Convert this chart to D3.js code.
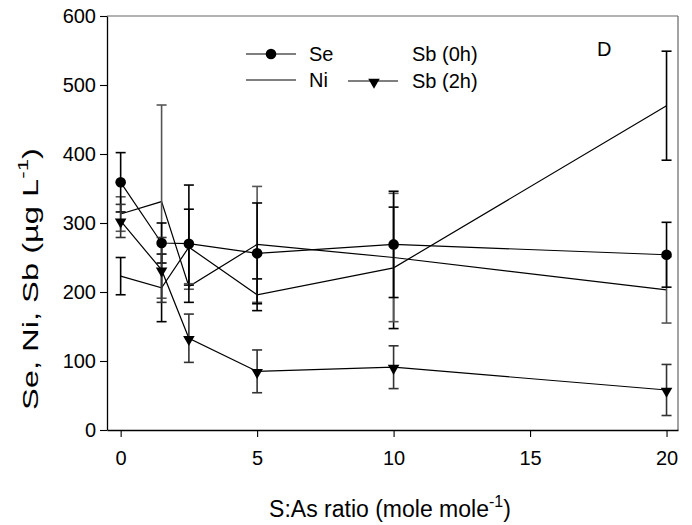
<!DOCTYPE html>
<html>
<head>
<meta charset="utf-8">
<script src="https://cdn.jsdelivr.net/npm/d3@7"></script>
<style>
  body { margin: 0; background: #fff; }
  text { font-family: "Liberation Sans", Arial, sans-serif; fill: #000; }
</style>
</head>
<body>
<svg class="chart"></svg>
<script>
// data
var ratio = [0, 1.5, 2.5, 5, 10, 20];
var se    = [359, 271, 270, 256, 269, 254];
var seErr = [43, 29, 85, 73, 77, 47];
var ni    = [223, 206, 265, 196, 235, 470];
var niErr = [27, 49, 55, 23, 88, 79];
var sb0    = [313, 331, 208, 269, 250, 203];
var sb0Err = [25, 140, 4, 84, 93, 48];
var sb2    = [303, 232, 133, 85, 91, 58];
var sb2Err = [24, 47, 35, 31, 31, 37];

var yTicks = [0, 100, 200, 300, 400, 500, 600];
var xTicks = [0, 5, 10, 15, 20];

var W = 692, H = 525;
var plot = {left: 107, right: 678, top: 16, bottom: 430};

var svg = d3.select("svg.chart").attr("width", W).attr("height", H);

var x = d3.scaleLinear().domain([-0.5, 20.42]).range([plot.left, plot.right]);
var y = d3.scaleLinear().domain([0, 600]).range([plot.bottom, plot.top]);

// frame: top and right in grey
svg.append("line").attr("x1", plot.left).attr("x2", plot.right)
    .attr("y1", plot.top).attr("y2", plot.top)
    .attr("stroke", "#666").attr("stroke-width", 1.2);
svg.append("line").attr("x1", plot.right).attr("x2", plot.right)
    .attr("y1", plot.top).attr("y2", plot.bottom)
    .attr("stroke", "#666").attr("stroke-width", 1.2);

// axes
var yAxis = svg.append("g")
    .attr("transform", "translate(" + plot.left + ",0)")
    .call(d3.axisLeft(y).tickValues(yTicks).tickSize(7).tickPadding(4).tickSizeOuter(0));
var xAxis = svg.append("g")
    .attr("transform", "translate(0," + plot.bottom + ")")
    .call(d3.axisBottom(x).tickValues(xTicks).tickSize(7).tickPadding(14).tickSizeOuter(0));

[yAxis, xAxis].forEach(function(a) {
    a.select(".domain").attr("stroke", "#000").attr("stroke-width", 1.3);
    a.selectAll(".tick line").attr("stroke", "#000").attr("stroke-width", 1.1);
    a.selectAll(".tick text").attr("font-size", 20)
        .style("font-family", "'Liberation Sans', Arial, sans-serif").attr("fill", "#000");
});

// axis titles
var xt = svg.append("text")
    .attr("x", 390).attr("y", 517)
    .attr("text-anchor", "middle").attr("font-size", 23);
xt.append("tspan").text("S:As ratio (mole mole");
xt.append("tspan").attr("dy", -10).attr("font-size", 16).text("-1");
xt.append("tspan").attr("dy", 10).text(")");

// the y title is drawn stretched along its length in the original
var yt = svg.append("text")
    .attr("transform", "translate(38," + 279 + ") rotate(-90)")
    .attr("x", -131)
    .attr("textLength", 262).attr("lengthAdjust", "spacingAndGlyphs")
    .attr("font-size", 22);
yt.append("tspan").text("Se, Ni, Sb (\u00b5g L");
yt.append("tspan").attr("dy", -10).attr("font-size", 15).text("-1");
yt.append("tspan").attr("dy", 10).text(")");

// series
function rows(v, e) {
    return ratio.map(function(r, i) { return {x: r, v: v[i], e: e[i]}; });
}
var series = [
    {name: "Ni",  data: rows(ni, niErr),   bar: "#000"},
    {name: "Sb0", data: rows(sb0, sb0Err), bar: "#555"},
    {name: "Se",  data: rows(se, seErr),   bar: "#000", mark: "circle"},
    {name: "Sb2", data: rows(sb2, sb2Err), bar: "#333", mark: "tri"}
];

var line = d3.line().x(function(d) { return x(d.x); }).y(function(d) { return y(d.v); });
var cap = 5;

series.forEach(function(s) {
    var g = svg.append("g").attr("class", "series " + s.name);

    g.append("path").datum(s.data)
        .attr("d", line).attr("fill", "none")
        .attr("stroke", "#000").attr("stroke-width", 1.2);

    var eb = g.selectAll(".err").data(s.data).enter().append("g")
        .attr("stroke", s.bar).attr("stroke-width", 1.6);
    eb.append("line")
        .attr("x1", function(d) { return x(d.x); }).attr("x2", function(d) { return x(d.x); })
        .attr("y1", function(d) { return y(d.v + d.e); }).attr("y2", function(d) { return y(d.v - d.e); });
    eb.append("line")
        .attr("x1", function(d) { return x(d.x) - cap; }).attr("x2", function(d) { return x(d.x) + cap; })
        .attr("y1", function(d) { return y(d.v + d.e); }).attr("y2", function(d) { return y(d.v + d.e); });
    eb.append("line")
        .attr("x1", function(d) { return x(d.x) - cap; }).attr("x2", function(d) { return x(d.x) + cap; })
        .attr("y1", function(d) { return y(d.v - d.e); }).attr("y2", function(d) { return y(d.v - d.e); });
});

// markers on top
var tri = d3.symbol().type(d3.symbolTriangle).size(58);
series.forEach(function(s) {
    if (s.mark == "circle") {
        svg.selectAll(".m-" + s.name).data(s.data).enter().append("circle")
            .attr("cx", function(d) { return x(d.x); })
            .attr("cy", function(d) { return y(d.v); })
            .attr("r", 5.3).attr("fill", "#000");
    } else if (s.mark == "tri") {
        svg.selectAll(".m-" + s.name).data(s.data).enter().append("path")
            .attr("d", tri)
            .attr("transform", function(d) { return "translate(" + x(d.x) + "," + (y(d.v) + 1) + ") rotate(180)"; })
            .attr("fill", "#000");
    }
});

// legend
var leg = svg.append("g").attr("class", "legend");
leg.append("line").attr("x1", 246).attr("x2", 296).attr("y1", 54).attr("y2", 54)
    .attr("stroke", "#000").attr("stroke-width", 1.2);
leg.append("circle").attr("cx", 271).attr("cy", 54).attr("r", 5.3).attr("fill", "#000");
leg.append("text").attr("x", 309).attr("y", 61).attr("font-size", 20).text("Se");

leg.append("line").attr("x1", 246).attr("x2", 296).attr("y1", 80).attr("y2", 80)
    .attr("stroke", "#000").attr("stroke-width", 1.2);
leg.append("text").attr("x", 309).attr("y", 87).attr("font-size", 20).text("Ni");

leg.append("text").attr("x", 412).attr("y", 61).attr("font-size", 20).text("Sb (0h)");

leg.append("line").attr("x1", 348).attr("x2", 398).attr("y1", 81).attr("y2", 81)
    .attr("stroke", "#000").attr("stroke-width", 1.2);
leg.append("path").attr("d", tri)
    .attr("transform", "translate(374,82) rotate(180)").attr("fill", "#000");
leg.append("text").attr("x", 412).attr("y", 88).attr("font-size", 20).text("Sb (2h)");

svg.append("text").attr("x", 597).attr("y", 56).attr("font-size", 20).text("D");
</script>
</body>
</html>
